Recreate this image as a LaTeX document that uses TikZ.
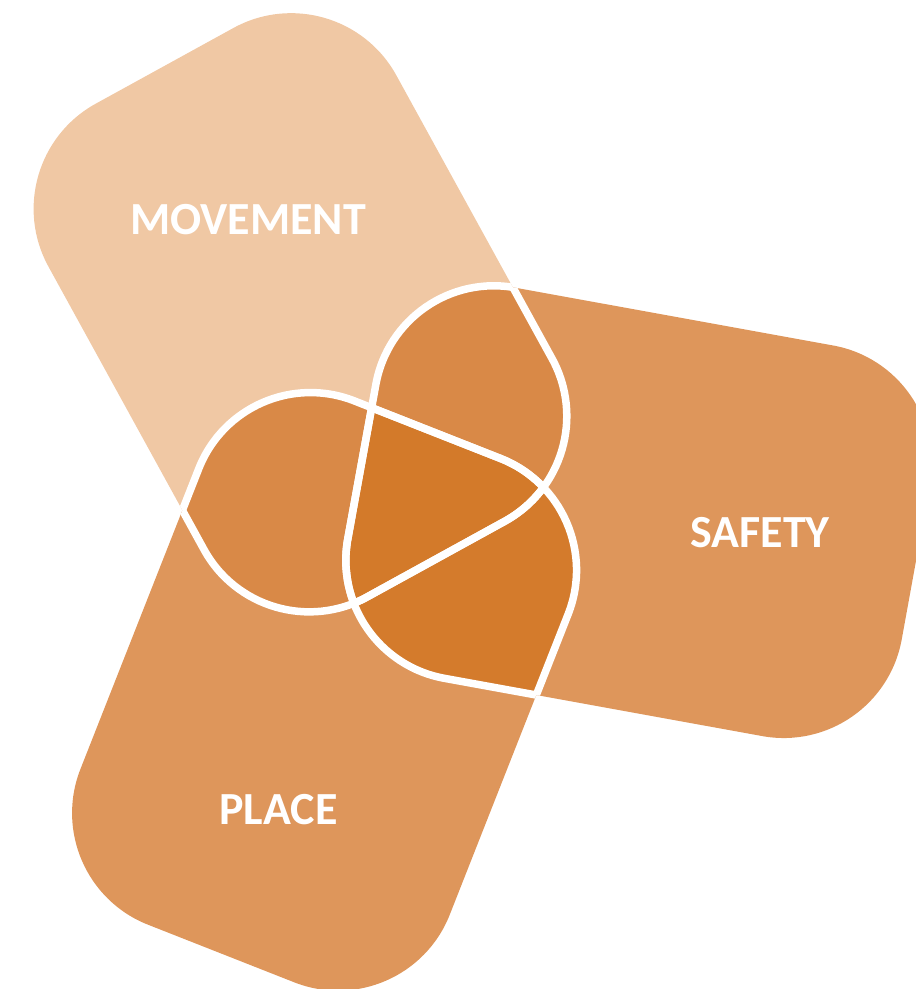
\documentclass[tikz,border=0pt]{standalone}
\usepackage{fontspec}
\setmainfont{Carlito}

% one rounded band, centred on the origin
\newcommand\band{[rounded corners=120pt] (-281.5,-198.5) rectangle (281.5,198.5)}

\begin{document}
\begin{tikzpicture}[x=1pt,y=-1pt,
    movement/.style={shift={(300.2,312.5)},rotate=-61.2},
    safety/.style={shift={(638.8,511.9)},rotate=-10.3},
    place/.style={shift={(324.3,691.6)},rotate=68.5},
    seam/.style={draw=white,line width=7.5pt},
    label/.style={text=white,inner sep=0pt,font=\fontsize{46}{50}\selectfont\bfseries}]
  \definecolor{movecol}{HTML}{F0C8A4}
  \definecolor{bandcol}{HTML}{DE965B}
  \definecolor{pairlight}{HTML}{D98947}
  \definecolor{pairdark}{HTML}{D47B2C}
  \definecolor{centre}{HTML}{D37A2A}

  \clip (0,0) rectangle (916,989);

  \fill[movecol,movement] \band;
  \fill[bandcol,safety] \band;
  \fill[bandcol,place] \band;

  % overlaps
  \begin{scope}
    \clip[safety] \band;
    \fill[pairdark,place] \band;
  \end{scope}
  \begin{scope}
    \clip[movement] \band;
    \fill[pairlight,safety] \band;
    \fill[pairlight,place] \band;
    \clip[safety] \band;
    \fill[centre,place] \band;
  \end{scope}

  % white edges only where a band lies over another one
  \foreach \shp/\clp in {movement/safety,movement/place,safety/movement,
                         safety/place,place/movement,place/safety} {
    \begin{scope}
      \clip[\clp] \band;
      \path[seam,\shp] \band;
    \end{scope}
  }

  \node[label] (mov) at (248,220) {MOVEMENT};
  \node[label] (saf) at (760,533) {SAFETY};
  \node[label] (plc) at (278.5,810) {PLACE};
\end{tikzpicture}
\end{document}
